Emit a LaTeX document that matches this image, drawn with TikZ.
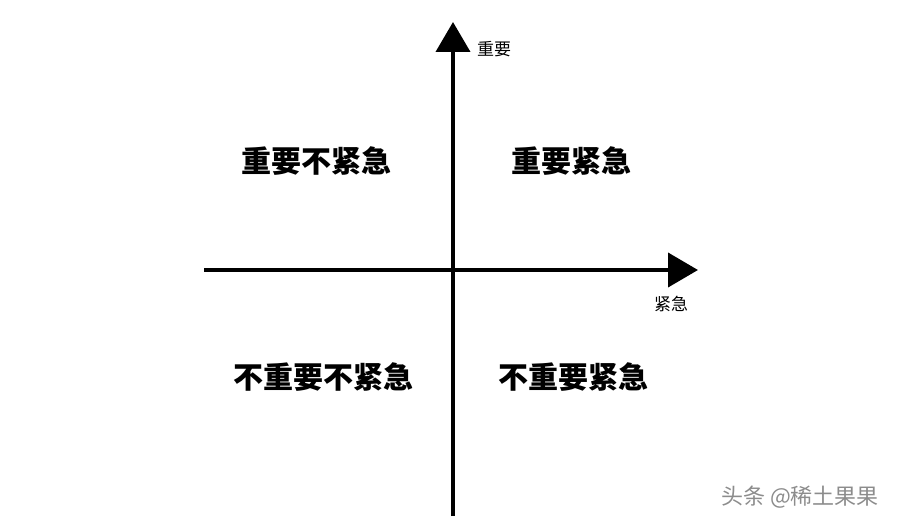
\documentclass[tikz,border=0pt]{standalone}
\usepackage{fontspec}
\setmainfont{Noto Sans CJK SC}
\usetikzlibrary{arrows.meta}
\begin{document}
\begin{tikzpicture}[x=1pt,y=-1pt,
  axis/.style={line width=4pt,-{Triangle[width=34pt,length=30pt]}},
  quad/.style={font=\bfseries\fontsize{30}{34}\selectfont},
  lbl/.style={font=\fontsize{17}{20}\selectfont}]
\useasboundingbox (0,0) rectangle (900,527);
\coordinate (vb) at (453,516);
\coordinate (vt) at (453,22);
\coordinate (hl) at (204,270);
\coordinate (hr) at (698,270);
\draw[axis] (vb) -- (vt);
\draw[axis] (hl) -- (hr);
\node[lbl] (imp) at (494,49) {重要};
\node[lbl] (urg) at (671,304) {紧急};
\node[quad] (q1) at (316,161) {重要不紧急};
\node[quad] (q2) at (571,161) {重要紧急};
\node[quad] (q3) at (323,377) {不重要不紧急};
\node[quad] (q4) at (573,377) {不重要紧急};
\node[font=\fontsize{22}{26}\selectfont,text=gray!90] (wm) at (800,497) {头条 @稀土果果};
\end{tikzpicture}
\end{document}
